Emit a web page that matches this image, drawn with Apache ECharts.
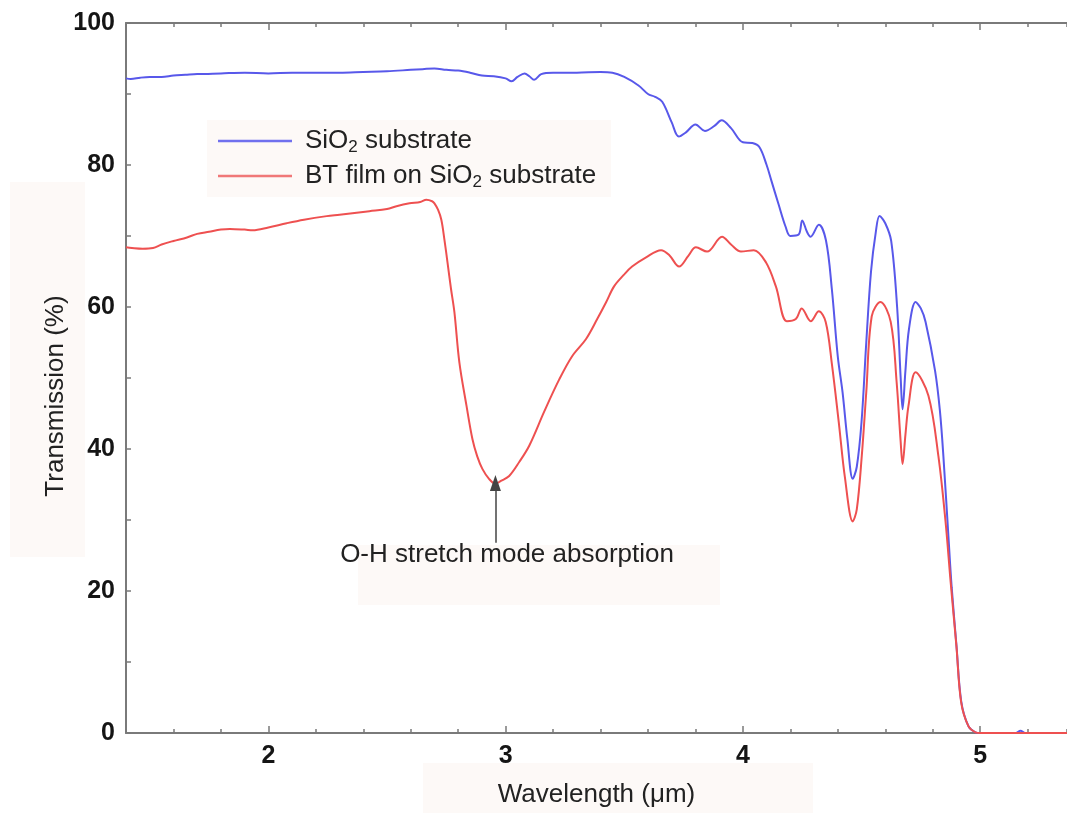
<!DOCTYPE html>
<html>
<head>
<meta charset="utf-8">
<script src="https://cdn.jsdelivr.net/npm/echarts@6/dist/echarts.min.js"></script>
<style>
html,body{margin:0;padding:0;background:#fff;}
#chart{width:1067px;height:813px;}
</style>
</head>
<body>
<div id="chart"></div>
<script>
// ---- Data ----
const blueWavelength = [1.40,1.42,1.46,1.50,1.55,1.60,1.65,1.70,1.80,1.90,2.00,2.10,2.20,2.30,2.40,2.50,2.60,2.65,2.70,2.75,2.80,2.85,2.90,2.95,3.00,3.025,3.05,3.08,3.10,3.12,3.15,3.20,3.30,3.40,3.45,3.50,3.56,3.60,3.63,3.66,3.70,3.73,3.76,3.80,3.84,3.88,3.91,3.95,4.00,4.04,4.07,4.10,4.12,4.15,4.18,4.20,4.235,4.25,4.27,4.285,4.32,4.35,4.375,4.40,4.42,4.44,4.463,4.48,4.50,4.52,4.54,4.56,4.576,4.60,4.625,4.65,4.665,4.673,4.685,4.70,4.728,4.75,4.77,4.81,4.83,4.845,4.866,4.88,4.90,4.92,4.95,4.98,5.00,5.15,5.17,5.19,5.366];
const blueTransmission = [92.2,92.1,92.3,92.4,92.4,92.6,92.7,92.8,92.9,93.0,92.9,93.0,93.0,93.0,93.1,93.2,93.4,93.5,93.6,93.4,93.3,93.0,92.6,92.5,92.2,91.8,92.4,92.9,92.5,92.0,92.8,93.0,93.0,93.1,93.0,92.4,91.2,90.0,89.6,88.9,86.0,84.0,84.6,85.7,84.8,85.5,86.3,85.2,83.2,83.1,82.5,80.0,77.8,74.5,71.3,70.0,70.2,72.2,70.6,69.9,71.6,69.4,62.5,53.0,48.0,41.5,35.8,37.5,43.8,55.0,65.0,70.5,72.8,71.8,69.3,60.0,50.0,45.6,51.0,56.9,60.7,59.8,57.9,51.0,45.5,39.0,27.8,20.5,12.4,4.5,1.0,0.1,0.0,0.0,0.3,0.0,0.0];

const redWavelength = [1.40,1.425,1.47,1.514,1.55,1.60,1.657,1.70,1.75,1.80,1.838,1.90,1.934,2.00,2.077,2.15,2.246,2.30,2.426,2.50,2.54,2.595,2.64,2.666,2.69,2.70,2.715,2.729,2.742,2.755,2.77,2.784,2.805,2.835,2.86,2.88,2.902,2.93,2.957,2.98,3.015,3.058,3.10,3.163,3.226,3.281,3.339,3.386,3.424,3.457,3.50,3.533,3.592,3.655,3.69,3.731,3.77,3.802,3.849,3.912,3.95,3.992,4.046,4.097,4.139,4.185,4.223,4.248,4.286,4.32,4.349,4.375,4.404,4.43,4.463,4.48,4.501,4.52,4.543,4.58,4.623,4.648,4.665,4.673,4.685,4.698,4.728,4.782,4.824,4.854,4.875,4.90,4.92,4.95,4.98,5.00,5.366];
const redTransmission = [68.4,68.3,68.2,68.3,68.8,69.3,69.8,70.3,70.6,70.9,71.0,70.9,70.8,71.2,71.8,72.3,72.8,73.0,73.5,73.8,74.2,74.6,74.8,75.1,74.9,74.6,73.7,72.3,69.5,66.3,62.5,59.3,52.2,46.1,41.4,39.0,37.2,35.8,35.1,35.5,36.2,38.2,40.5,45.3,49.8,53.1,55.5,58.3,60.7,62.9,64.6,65.7,67.0,68.0,67.3,65.7,67.2,68.4,67.8,69.9,68.8,67.8,68.0,66.3,62.9,58.0,58.3,59.8,58.0,59.4,57.9,52.0,43.8,36.0,29.8,31.5,39.0,48.0,58.7,60.7,57.9,49.4,41.0,37.9,42.0,46.1,50.8,47.5,39.0,29.8,21.5,12.2,4.3,1.0,0.1,0.0,0.0];

const xTickLabels = [2, 3, 4, 5];
const yTickLabels = [0, 20, 40, 60, 80, 100];
const seriesNames = ['SiO2 substrate', 'BT film on SiO2 substrate'];
const annotationText = 'O-H stretch mode absorption';
const annotationArrow = { x: 2.957, yFrom: 26.8, yTo: 35.2 };
const annotationLabel = { x: 3.006, y: 25.1 };

// ---- Chart ----
const FONT = "'Liberation Sans', Arial, Helvetica, sans-serif";
const chart = echarts.init(document.getElementById('chart'), null, { renderer: 'canvas' });

function zip(xs, ys) { return xs.map((x, i) => [x, ys[i]]); }

const axisGray = '#7a7a7a';
const boxFill = '#fdf9f7';
const xMin = 1.4, xMax = 5.366;

const baseX = {
  type: 'value', min: xMin, max: xMax, interval: 0.2,
  splitLine: { show: false }
};

const option = {
  animation: false,
  backgroundColor: '#ffffff',
  grid: { left: 126, right: 0, top: 23, bottom: 78.5, containLabel: false },
  graphic: {
    elements: [
      { type: 'rect', z: -100, shape: { x: 207, y: 120, width: 404, height: 77 }, style: { fill: boxFill }, silent: true },
      { type: 'rect', z: -100, shape: { x: 10, y: 182, width: 75, height: 375 }, style: { fill: boxFill }, silent: true },
      { type: 'rect', z: -100, shape: { x: 358, y: 545, width: 362, height: 60 }, style: { fill: boxFill }, silent: true },
      { type: 'rect', z: -100, shape: { x: 423, y: 763, width: 390, height: 50 }, style: { fill: boxFill }, silent: true }
    ]
  },
  legend: {
    orient: 'vertical', left: 218, top: 128, padding: 0, itemGap: 7,
    itemWidth: 74, itemHeight: 2.5, icon: 'rect',
    data: seriesNames,
    formatter: function (name) {
      return '{a|' + name.replace('SiO2', 'SiO}{s|2}{a|') + '}';
    },
    textStyle: {
      fontFamily: FONT, color: '#222', padding: [0, 0, 0, 8],
      rich: {
        a: { fontFamily: FONT, fontSize: 26, color: '#222', lineHeight: 30, verticalAlign: 'middle' },
        s: { fontFamily: FONT, fontSize: 17, color: '#222', lineHeight: 16, verticalAlign: 'bottom' }
      }
    }
  },
  xAxis: [
    Object.assign({}, baseX, {
      position: 'bottom',
      axisLine: { show: true, onZero: false, lineStyle: { color: axisGray, width: 2 } },
      axisTick: { show: true, inside: true, length: 4, lineStyle: { color: axisGray, width: 1.5 } },
      axisLabel: { customValues: xTickLabels, margin: 11, fontFamily: FONT, fontSize: 25, fontWeight: 'bold', color: '#151515',
        formatter: v => String(Math.round(v)) },
      name: 'Wavelength (μm)', nameLocation: 'middle', nameGap: 49, nameMoveOverlap: false,
      nameTextStyle: { fontFamily: FONT, fontSize: 26, color: '#222' }
    }),
    Object.assign({}, baseX, {
      position: 'top',
      axisLine: { show: true, onZero: false, lineStyle: { color: axisGray, width: 2 } },
      axisTick: { show: true, inside: true, length: 4, lineStyle: { color: axisGray, width: 1.5 } },
      axisLabel: { show: false }
    }),
    Object.assign({}, baseX, {
      position: 'bottom',
      axisLine: { show: false, onZero: false },
      axisTick: { show: true, inside: true, length: 7, customValues: xTickLabels, lineStyle: { color: axisGray, width: 1.5 } },
      axisLabel: { show: false }
    }),
    Object.assign({}, baseX, {
      position: 'top',
      axisLine: { show: false, onZero: false },
      axisTick: { show: true, inside: true, length: 7, customValues: xTickLabels, lineStyle: { color: axisGray, width: 1.5 } },
      axisLabel: { show: false }
    })
  ],
  yAxis: {
    type: 'value', min: 0, max: 100, interval: 10,
    splitLine: { show: false },
    axisLine: { show: true, onZero: false, lineStyle: { color: axisGray, width: 2 } },
    axisTick: { show: true, inside: true, length: 5, lineStyle: { color: axisGray, width: 1.5 } },
    axisLabel: { customValues: yTickLabels, margin: 11, fontFamily: FONT, fontSize: 25, fontWeight: 'bold', color: '#151515' },
    name: 'Transmission (%)', nameLocation: 'middle', nameGap: 57, nameRotate: 90, nameMoveOverlap: false,
    nameTextStyle: { fontFamily: FONT, fontSize: 26, color: '#222', padding: [0, 36, 0, 0] }
  },
  series: [
    {
      name: seriesNames[0], type: 'line', xAxisIndex: 0,
      data: zip(blueWavelength, blueTransmission),
      symbol: 'none', smooth: 0.35, z: 3,
      lineStyle: { color: '#5858ea', width: 2 },
      itemStyle: { color: '#7070ee' }
    },
    {
      name: seriesNames[1], type: 'line', xAxisIndex: 0,
      data: zip(redWavelength, redTransmission),
      symbol: 'none', smooth: 0.35, z: 4,
      lineStyle: { color: '#ee5050', width: 2 },
      itemStyle: { color: '#f07878' },
      markLine: {
        silent: true, animation: false,
        symbol: ['none', 'triangle'], symbolSize: [11, 16],
        lineStyle: { color: '#444', width: 1.5, type: 'solid' },
        itemStyle: { color: '#000' },
        label: { show: false },
        data: [[
          { coord: [annotationArrow.x, annotationArrow.yFrom] },
          { coord: [annotationArrow.x, annotationArrow.yTo], symbol: 'triangle' }
        ]]
      },
      markPoint: {
        silent: true, animation: false,
        symbol: 'circle', symbolSize: 1,
        itemStyle: { color: 'rgba(0,0,0,0)' },
        label: { show: true, position: 'inside', formatter: annotationText,
          fontFamily: FONT, fontSize: 26, color: '#222' },
        data: [{ coord: [annotationLabel.x, annotationLabel.y] }]
      }
    }
  ]
};

chart.setOption(option);
</script>
</body>
</html>
